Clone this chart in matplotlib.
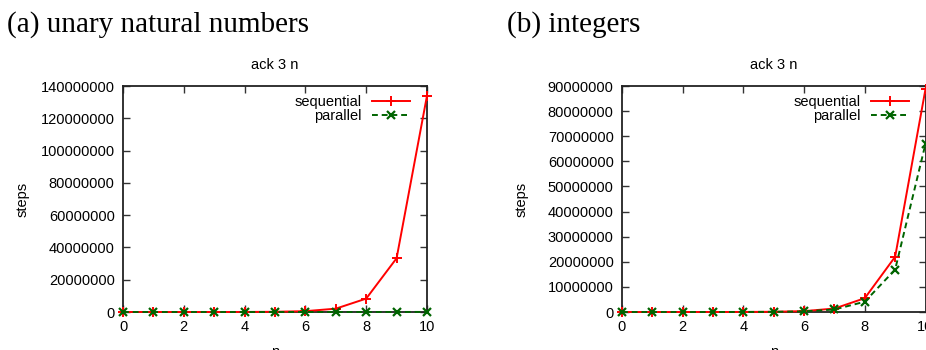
import matplotlib
matplotlib.use("Agg")
import matplotlib.pyplot as plt

# data
n = list(range(11))

unary_seq = [120, 500, 2000, 8000, 32000, 130000, 520000, 2070000, 8300000, 33300000, 134000000]
unary_par = [20, 40, 80, 160, 400, 900, 2000, 4500, 10000, 22000, 50000]

int_seq = [90, 350, 1400, 5500, 22000, 88000, 350000, 1380000, 5500000, 22000000, 88800000]
int_par = [60, 250, 1000, 4000, 16000, 62000, 250000, 1000000, 4100000, 16900000, 67000000]

panel_titles = ["(a) unary natural numbers", "(b) integers"]
plot_title = "ack 3 n"
y_maxes = [140000000, 90000000]
y_steps = [20000000, 10000000]

plt.rcParams["font.family"] = ["Liberation Sans", "DejaVu Sans"]

fig = plt.figure(figsize=(9.26, 3.5), dpi=100)
W, H = 926.0, 350.0

# axes boxes in pixels: left, right, bottom, top
boxes = [(123, 427, 312, 86), (622, 925.5, 312, 86)]
series = [(unary_seq, unary_par), (int_seq, int_par)]
title_x = [7, 507]


def do_panel(i):
    x0, x1, yb, yt = boxes[i]
    ax = fig.add_axes([x0 / W, 1 - yb / H, (x1 - x0) / W, (yb - yt) / H])
    seq, par = series[i]
    ax.plot(n, seq, color="#ff0000", lw=1.4, marker="+", ms=7, mew=1.4,
            label="sequential", clip_on=False, zorder=3)
    ax.plot(n, par, color="#006400", lw=1.4, ls=(0, (3, 2)), marker="x", ms=6, mew=1.6,
            label="parallel", clip_on=False, zorder=3)
    ax.set_xlim(0, 10)
    ax.set_ylim(0, y_maxes[i])
    ax.set_xticks(range(0, 11, 2))
    ax.set_yticks(range(0, y_maxes[i] + 1, y_steps[i]))
    ax.set_yticklabels([str(v) for v in range(0, y_maxes[i] + 1, y_steps[i])])
    ax.tick_params(direction="in", length=5, width=1, top=True, right=True,
                   labelsize=10.5, color="#333333", pad=6)
    for s in ax.spines.values():
        s.set_linewidth(1.3)
        s.set_color("#222222")
    ax.set_title(plot_title, fontsize=10.5, pad=12)
    ax.set_xlabel("n", fontsize=10.5)
    ax.xaxis.set_label_coords(0.5, -0.146)
    ax.set_ylabel("steps", fontsize=10.5)
    ax.yaxis.set_label_coords(-0.309, 0.5)
    ax.legend(loc="upper right", bbox_to_anchor=(0.944, 0.96), frameon=False,
              markerfirst=False, fontsize=10.5, handlelength=2.6, handletextpad=0.7,
              labelspacing=0.0, borderpad=0, borderaxespad=0)
    fig.text(title_x[i] / W, 1 - 32 / H, panel_titles[i], family="Liberation Serif",
             fontsize=21, ha="left", va="baseline")
    return ax


for i in range(2):
    do_panel(i)

fig.savefig("out.png", dpi=100)
